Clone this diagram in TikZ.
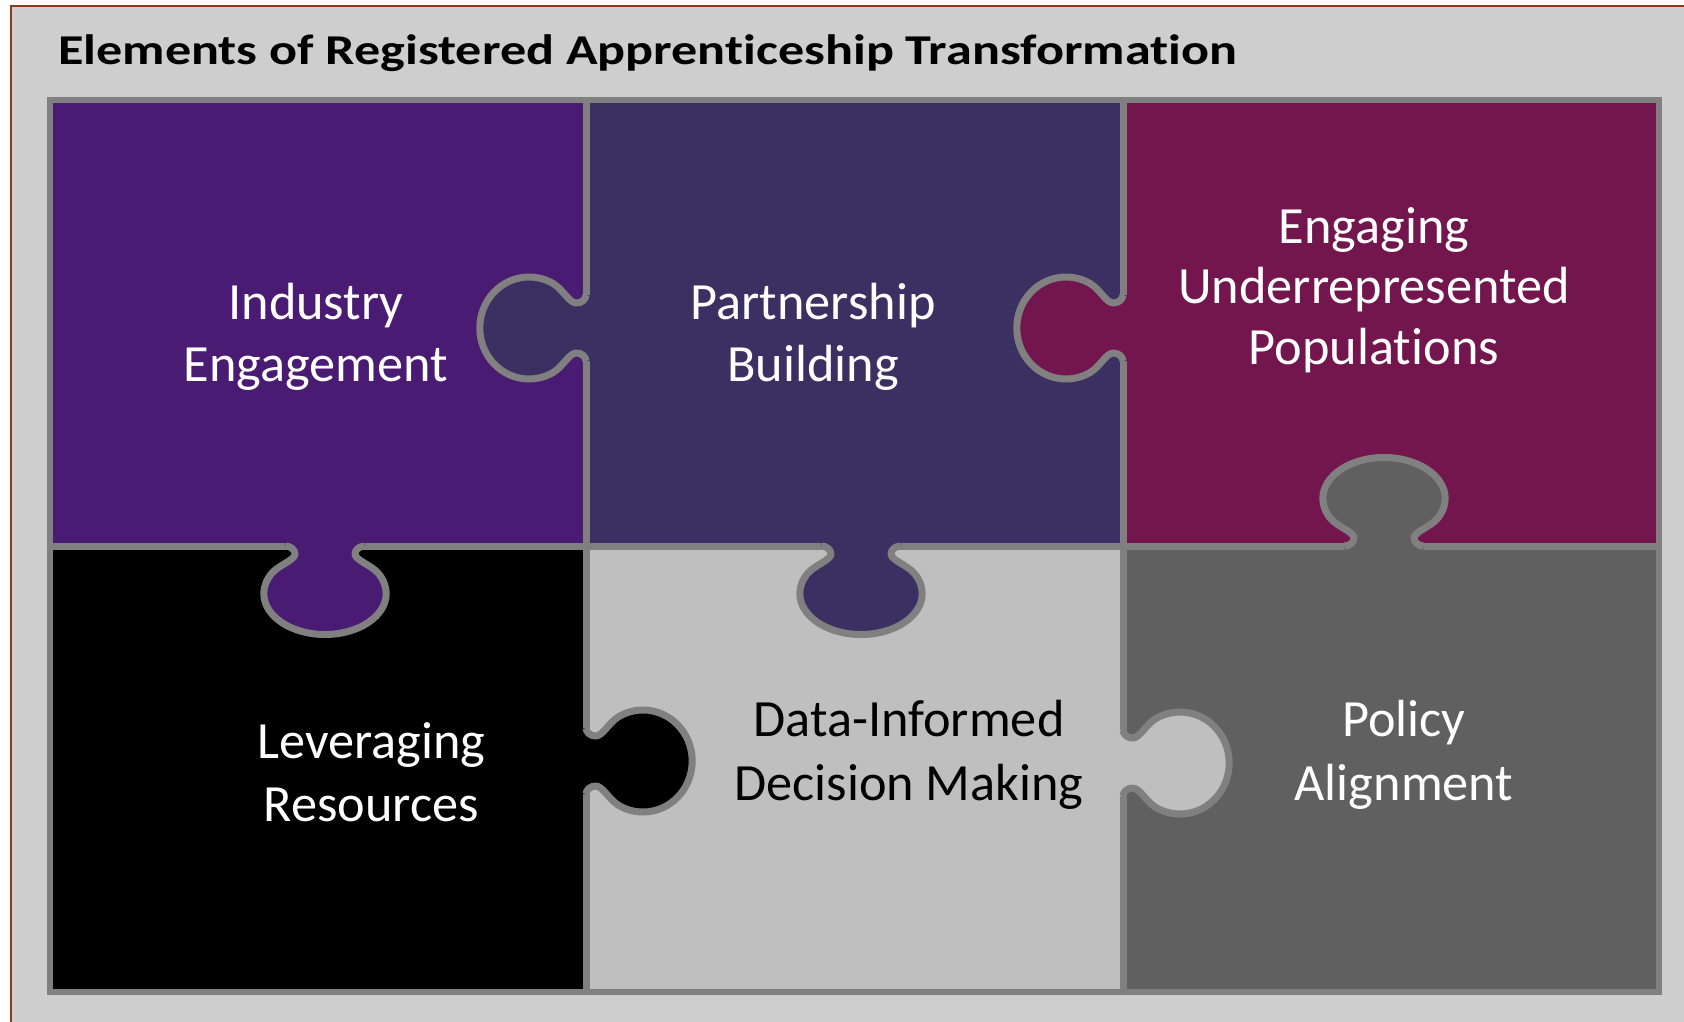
\documentclass[tikz,border=0pt]{standalone}
\usepackage{graphicx}
\usepackage{fontspec}
\setmainfont{Carlito}[Ligatures=NoCommon]
\definecolor{bgc}{RGB}{206,206,206}
\definecolor{framec}{RGB}{140,58,28}
\definecolor{linec}{RGB}{128,128,128}
\definecolor{iec}{RGB}{73,27,115}
\definecolor{pbc}{RGB}{58,49,98}
\definecolor{eupc}{RGB}{115,22,77}
\definecolor{lrc}{RGB}{0,0,0}
\definecolor{didc}{RGB}{191,191,191}
\definecolor{pac}{RGB}{96,96,96}
\tikzset{
  pzline/.style={draw=linec, line width=7pt, line join=round},
  lbl/.style={font=\fontsize{52.3}{62}\selectfont, anchor=base, inner sep=0pt},
}
% knob: #1,#2 = centre on the edge, #3 = rotation, #4 = owner colour
\newcommand{\knob}[4]{%
  \begin{scope}[shift={(#1,#2)}, xscale=1.2, rotate=#3]
    \fill[#4] (-33,-6) -- (-33,0) .. controls (-29,0) and (-25,3.5) .. (-25,8)
      .. controls (-25,14) and (-38.2,18.9) .. (-44.17,27)
      .. controls (-48.65,33.23) and (-51,40.3) .. (-51,47.5)
      .. controls (-51,70.14) and (-28.17,88.5) .. (0,88.5)
      .. controls (28.17,88.5) and (51,70.14) .. (51,47.5)
      .. controls (51,40.3) and (48.65,33.23) .. (44.17,27)
      .. controls (38.2,18.9) and (25,14) .. (25,8)
      .. controls (25,3.5) and (29,0) .. (33,0) -- (33,-6) -- cycle;
    \draw[pzline] (-33,0) .. controls (-29,0) and (-25,3.5) .. (-25,8)
      .. controls (-25,14) and (-38.2,18.9) .. (-44.17,27)
      .. controls (-48.65,33.23) and (-51,40.3) .. (-51,47.5)
      .. controls (-51,70.14) and (-28.17,88.5) .. (0,88.5)
      .. controls (28.17,88.5) and (51,70.14) .. (51,47.5)
      .. controls (51,40.3) and (48.65,33.23) .. (44.17,27)
      .. controls (38.2,18.9) and (25,14) .. (25,8)
      .. controls (25,3.5) and (29,0) .. (33,0);
  \end{scope}}
\begin{document}
\begin{tikzpicture}[x=1pt,y=-1pt]
\useasboundingbox (0,0) rectangle (1684,1022);
\clip (0,0) rectangle (1684,1022);
\fill[white] (0,0) rectangle (1684,1022);
\fill[bgc] (11,6) rectangle (1720,1060);
\draw[framec, line width=2pt] (11,1060) -- (11,6) -- (1720,6);
% title
\node[anchor=base west, inner sep=0pt, font=\fontsize{42.5}{50}\selectfont\bfseries] (title) at (58,65) {\scalebox{1.227}[1]{Elements of Registered Apprenticeship Transformation}};
% pieces
\fill[iec]  (50,100) rectangle (586,546);
\fill[pbc]  (586,100) rectangle (1123,546);
\fill[eupc] (1123,100) rectangle (1659,546);
\fill[lrc]  (50,546) rectangle (586,992);
\fill[didc] (586,546) rectangle (1123,992);
\fill[pac]  (1123,546) rectangle (1659,992);
% grid lines
\draw[pzline] (586,100) -- (586,992);
\draw[pzline] (1123,100) -- (1123,992);
\draw[pzline] (50,546) -- (1659,546);
\draw[draw=linec, line width=6pt] (50,100) rectangle (1659,992);
% knobs
\knob{586}{328}{-90}{pbc}
\knob{1123}{328}{-90}{eupc}
\knob{325}{546}{0}{iec}
\knob{861}{546}{0}{pbc}
\knob{1384}{546}{180}{pac}
\knob{586}{761}{90}{lrc}
\knob{1123}{763}{90}{didc}
% labels
\node[lbl, text=white] (ie1) at (316,319.3) {Industry};
\node[lbl, text=white] (ie2) at (316,381.7) {Engagement};
\node[lbl, text=white] (pb1) at (813,319.3) {Partnership};
\node[lbl, text=white] (pb2) at (813,381.7) {Building};
\node[lbl, text=white] (eu1) at (1374,243.3) {Engaging};
\node[lbl, text=white] (eu2) at (1374,303.8) {Underrepresented};
\node[lbl, text=white] (eu3) at (1374,364.3) {Populations};
\node[lbl, text=white] (lr1) at (371.5,758.3) {Leveraging};
\node[lbl, text=white] (lr2) at (371.5,821.7) {Resources};
\node[lbl, text=black] (dd1) at (909,736.7) {Data-Informed};
\node[lbl, text=black] (dd2) at (909,800) {Decision Making};
\node[lbl, text=white] (pa1) at (1404,736.7) {Policy};
\node[lbl, text=white] (pa2) at (1404,800) {Alignment};
\end{tikzpicture}
\end{document}
